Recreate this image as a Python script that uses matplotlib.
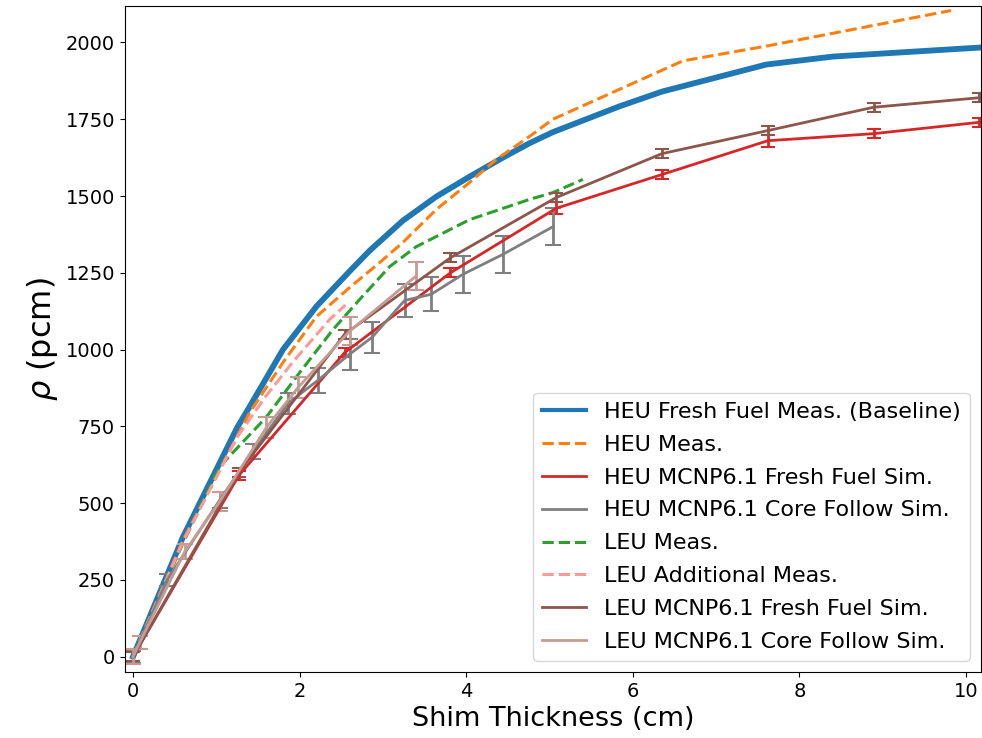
import matplotlib
matplotlib.use("Agg")
import matplotlib.pyplot as plt

# HEU fresh fuel baseline measurement
heu_base_x = [0, 0.6, 1.25, 1.4, 1.8, 2.2, 2.6, 2.84, 3.24, 3.64, 4.04, 4.44, 4.76, 5.04,
              5.84, 6.35, 7.6, 8.4, 10.2]
heu_base_y = [0, 390, 746, 814, 1000, 1140, 1255, 1322, 1420, 1498, 1563, 1625, 1672, 1708,
              1792, 1840, 1928, 1954, 1984]

# HEU measurement
heu_meas_x = [0, 0.6, 1.4, 1.8, 2.2, 2.6, 2.96, 3.24, 3.64, 4.04, 4.36, 4.76, 5.04, 6.6, 7.6, 9.82]
heu_meas_y = [0, 380, 795, 958, 1107, 1202, 1283, 1349, 1456, 1544, 1619, 1694, 1750, 1940, 1988, 2104]

# LEU measurement
leu_meas_x = [0, 0.6, 1.04, 1.6, 2.0, 2.4, 2.72, 3.08, 3.4, 4.04, 4.76, 5.04, 5.4]
leu_meas_y = [0, 370, 619, 780, 925, 1065, 1163, 1270, 1335, 1423, 1489, 1511, 1554]

# LEU additional measurement
leu_add_x = [0, 0.6, 1.25, 1.6, 1.92, 2.36, 2.55]
leu_add_y = [0, 375, 715, 850, 960, 1098, 1145]

# MCNP fresh fuel simulations (0.5 in steps)
sim_x = [0, 1.27, 2.54, 3.81, 5.08, 6.35, 7.62, 8.89, 10.16]
heu_sim_y = [0, 590, 990, 1250, 1460, 1570, 1680, 1703, 1740]
heu_sim_err = [15, 15, 15, 15, 20, 15, 20, 15, 15]
leu_sim_y = [0, 600, 1050, 1299, 1495, 1638, 1713, 1789, 1820]
leu_sim_err = [15, 15, 15, 15, 15, 15, 15, 15, 15]

# HEU core follow simulation
heu_cf_x = [0, 0.41, 1.04, 1.44, 1.86, 2.22, 2.6, 2.87, 3.26, 3.58, 3.96, 4.44, 5.04]
heu_cf_y = [0, 250, 510, 668, 825, 900, 985, 1040, 1160, 1180, 1245, 1310, 1400]
heu_cf_err = [20, 20, 25, 25, 35, 40, 50, 50, 55, 55, 60, 60, 60]

# LEU core follow simulation
leu_cf_x = [0, 0.08, 0.62, 1.04, 1.6, 1.98, 2.6, 3.4]
leu_cf_y = [0, 46, 342, 505, 746, 876, 1060, 1240]
leu_cf_err = [25, 20, 25, 30, 35, 35, 45, 45]

fig = plt.figure(figsize=(9.82, 7.38), dpi=100)
ax = fig.add_axes([0.127, 0.0894, 0.872, 0.903])

h_base, = ax.plot(heu_base_x, heu_base_y, color="#1f77b4", lw=4.2)
h_hm, = ax.plot(heu_meas_x, heu_meas_y, color="#ff7f0e", lw=2.2, ls="--")
h_hs = ax.errorbar(sim_x, heu_sim_y, yerr=heu_sim_err, color="#d62728", lw=2,
                   capsize=5, elinewidth=2, capthick=1.5)
h_hc = ax.errorbar(heu_cf_x, heu_cf_y, yerr=heu_cf_err, color="#7f7f7f", lw=2,
                   capsize=6, elinewidth=2, capthick=1.5)
h_lm, = ax.plot(leu_meas_x, leu_meas_y, color="#2ca02c", lw=2.2, ls="--")
h_la, = ax.plot(leu_add_x, leu_add_y, color="#ff9896", lw=2.2, ls="--")
h_ls = ax.errorbar(sim_x, leu_sim_y, yerr=leu_sim_err, color="#8c564b", lw=2,
                   capsize=5, elinewidth=2, capthick=1.5)
h_lc = ax.errorbar(leu_cf_x, leu_cf_y, yerr=leu_cf_err, color="#c49c94", lw=2,
                   capsize=6, elinewidth=2, capthick=1.5)

ax.set_xlim(-0.1, 10.18)
ax.set_ylim(-50, 2120)
ax.set_xticks([0, 2, 4, 6, 8, 10])
ax.set_yticks(range(0, 2001, 250))
ax.tick_params(labelsize=14)
ax.set_xlabel("Shim Thickness (cm)", fontsize=19.5)
ax.set_ylabel(r"$\rho$ (pcm)", fontsize=23)

handles = [h_base, h_hm, h_hs[0], h_hc[0], h_lm, h_la, h_ls[0], h_lc[0]]
labels = [
    "HEU Fresh Fuel Meas. (Baseline)",
    "HEU Meas.",
    "HEU MCNP6.1 Fresh Fuel Sim.",
    "HEU MCNP6.1 Core Follow Sim.",
    "LEU Meas.",
    "LEU Additional Meas.",
    "LEU MCNP6.1 Fresh Fuel Sim.",
    "LEU MCNP6.1 Core Follow Sim.",
]
leg = ax.legend(handles, labels, loc="lower right", fontsize=16, framealpha=0.8,
                labelspacing=0.58)
leg.legend_handles[0].set_linewidth(3)

fig.savefig("out.png", dpi=100)
